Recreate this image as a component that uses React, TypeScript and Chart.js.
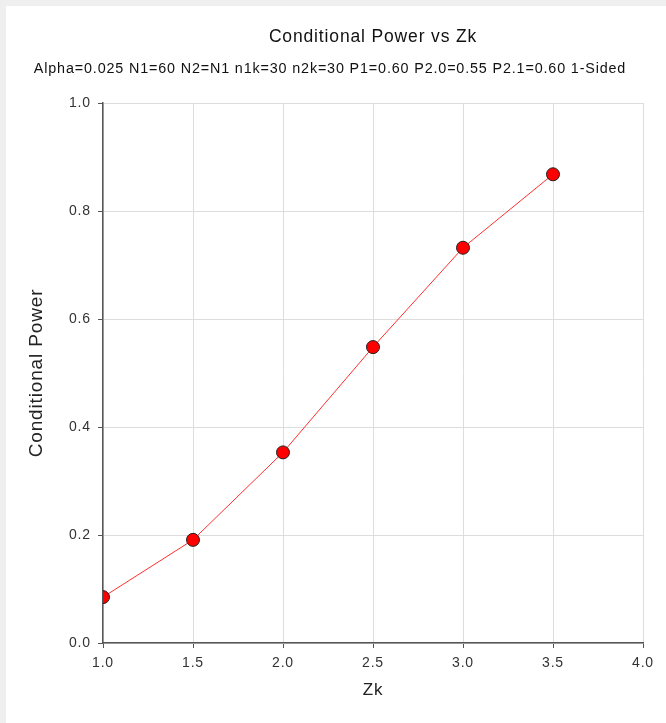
import React, { useEffect, useRef } from "react";
import { Chart, registerables } from "chart.js";

Chart.register(...registerables);

const zkValues = [1.0, 1.5, 2.0, 2.5, 3.0, 3.5];
const powerValues = [0.085, 0.191, 0.353, 0.548, 0.732, 0.868];
const titleText = "Conditional Power vs Zk";
const subtitleText =
  "Alpha=0.025 N1=60 N2=N1 n1k=30 n2k=30 P1=0.60 P2.0=0.55 P2.1=0.60 1-Sided";
const xTitle = "Zk";
const yTitle = "Conditional Power";

const FONT = "'Liberation Sans', Arial, sans-serif";
const SPACING = "0.85px";

const spacingPlugin = {
  id: "letterSpacing",
  beforeUpdate(chart: any) {
    chart.ctx.letterSpacing = SPACING;
  },
  beforeLayout(chart: any) {
    chart.ctx.letterSpacing = SPACING;
  },
  beforeDraw(chart: any) {
    chart.ctx.letterSpacing = SPACING;
  },
};

export default function App() {
  const ref = useRef<HTMLCanvasElement | null>(null);

  useEffect(() => {
    document.body.style.margin = "0";
    const ctx = ref.current;
    if (!ctx) return;
    const chart = new Chart(ctx, {
      type: "scatter",
      data: {
        datasets: [
          {
            data: zkValues.map((x, i) => ({ x, y: powerValues[i] })),
            showLine: true,
            borderColor: "#ff3030",
            borderWidth: 1,
            backgroundColor: "#ff0000",
            pointBackgroundColor: "#ff0000",
            pointBorderColor: "#222222",
            pointBorderWidth: 1,
            pointRadius: 6.5,
          },
        ],
      },
      plugins: [spacingPlugin],
      options: {
        animation: false,
        responsive: false,
        layout: { padding: { left: 17, right: 23, top: 0, bottom: 0 } },
        plugins: {
          legend: { display: false },
          tooltip: { enabled: false },
          title: {
            display: true,
            text: titleText,
            fullSize: false,
            color: "#111",
            font: { family: FONT, size: 17.5, weight: "normal" },
            padding: { top: 27, bottom: 4 },
          },
          subtitle: {
            display: true,
            text: subtitleText,
            color: "#111",
            font: { family: FONT, size: 14.35, weight: "normal" },
            padding: { top: 8.4, bottom: 25.4 },
          },
        },
        scales: {
          x: {
            type: "linear",
            min: 1,
            max: 4,
            afterFit: (s: any) => {
              s.height = 80;
            },
            ticks: {
              stepSize: 0.5,
              color: "#333",
              padding: 7,
              font: { family: FONT, size: 14 },
              callback: (v: any) => Number(v).toFixed(1),
            },
            grid: { color: "#dddddd", tickColor: "#555", tickLength: 5 },
            border: { color: "#555", width: 1.5 },
            title: {
              display: true,
              text: xTitle,
              color: "#222",
              font: { family: FONT, size: 17 },
              padding: { top: 0, bottom: 22.8 },
            },
          },
          y: {
            type: "linear",
            min: 0,
            max: 1,
            afterFit: (s: any) => {
              s.width = 86;
            },
            ticks: {
              stepSize: 0.2,
              color: "#333",
              padding: 7,
              font: { family: FONT, size: 14 },
              callback: (v: any) => Number(v).toFixed(1),
            },
            grid: { color: "#dddddd", tickColor: "#555", tickLength: 5 },
            border: { color: "#555", width: 1.5 },
            title: {
              display: true,
              text: yTitle,
              color: "#222",
              font: { family: FONT, size: 19 },
              padding: { top: 8.6, bottom: 0 },
            },
          },
        },
      },
    });
    return () => chart.destroy();
  }, []);

  return (
    <div
      style={{
        position: "relative",
        width: 666,
        height: 723,
        background: "#efefef",
        overflow: "hidden",
      }}
    >
      <div
        style={{
          position: "absolute",
          left: 6,
          top: 6,
          width: 660,
          height: 717,
          background: "#ffffff",
        }}
      />
      <canvas
        ref={ref}
        width={666}
        height={723}
        style={{ position: "absolute", left: 0, top: 0, width: 666, height: 723 }}
      />
    </div>
  );
}
